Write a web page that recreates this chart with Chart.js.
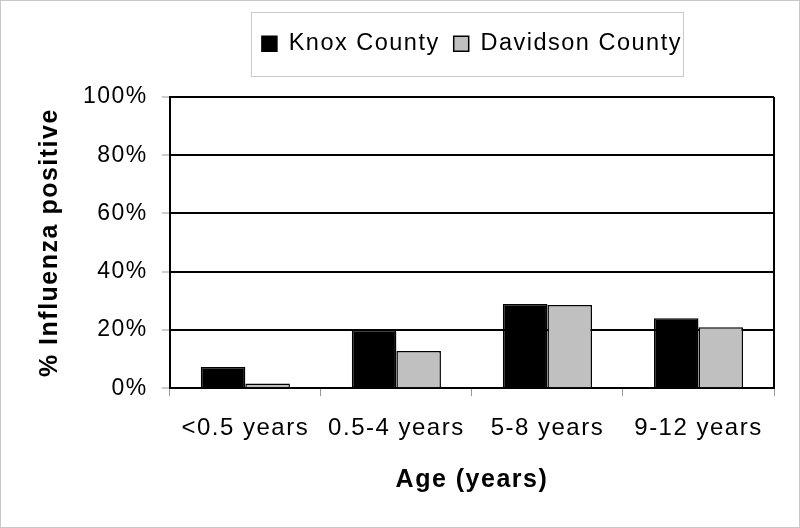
<!DOCTYPE html>
<html>
<head>
<meta charset="utf-8">
<script src="https://cdn.jsdelivr.net/npm/chart.js@4.4.0/dist/chart.umd.min.js"></script>
<style>
  html, body { margin: 0; padding: 0; background: #fff; }
  #wrap { width: 800px; height: 528px; }
</style>
</head>
<body>
<div id="wrap"><canvas id="fluChart" width="800" height="528"></canvas></div>
<script>
var ageGroups = ['<0.5 years', '0.5-4 years', '5-8 years', '9-12 years'];
var knoxValues = [7.3, 20, 28.9, 24];
var davidsonValues = [1.6, 12.8, 28.6, 20.9];
var yTicks = [0, 20, 40, 60, 80, 100];

// the old export has wide letter spacing, keep it on the canvas state
var spacingPlugin = {
    id: 'spacingPlugin',
    beforeLayout: function(chart) { chart.ctx.letterSpacing = '1.5px'; },
    beforeDraw: function(chart) { chart.ctx.letterSpacing = '1.5px'; }
};

// extra room below the legend before the plot starts
var legendGapPlugin = {
    id: 'legendGapPlugin',
    afterInit: function(chart) {
        var lg = chart.legend;
        if (!lg) return;
        var origFit = lg.fit;
        lg.fit = function() {
            origFit.call(this);
            this.height += 31.5;
        };
    }
};

// frame round the whole picture, box round the legend, right edge of plot
var framePlugin = {
    id: 'framePlugin',
    afterDraw: function(chart) {
        var c = chart.ctx;
        var a = chart.chartArea;
        var lg = chart.legend;
        c.save();
        c.strokeStyle = '#c8c8c8';
        c.lineWidth = 1;
        c.strokeRect(0.5, 0.5, chart.width - 1, chart.height - 1);
        if (lg && lg.legendHitBoxes.length) {
            var first = lg.legendHitBoxes[0];
            var last = lg.legendHitBoxes[lg.legendHitBoxes.length - 1];
            c.strokeRect(first.left - 10.5, lg.top - 5.5, (last.left + last.width) - first.left + 12, 64);
        }
        c.strokeStyle = '#000';
        c.lineWidth = 2;
        c.beginPath();
        c.moveTo(a.right, a.top);
        c.lineTo(a.right, a.bottom);
        c.stroke();
        c.restore();
    }
};

var ctx = document.getElementById('fluChart').getContext('2d');
new Chart(ctx, {
    type: 'bar',
    data: {
        labels: ageGroups,
        datasets: [{
            label: 'Knox County',
            data: knoxValues,
            backgroundColor: '#000000',
            borderColor: '#000000',
            borderWidth: 1.5
        }, {
            label: 'Davidson County',
            data: davidsonValues,
            backgroundColor: '#c0c0c0',
            borderColor: '#000000',
            borderWidth: 1.5
        }]
    },
    options: {
        responsive: false,
        animation: false,
        layout: { padding: { top: 18, right: 26, left: 35, bottom: 33 } },
        datasets: { bar: { categoryPercentage: 0.59, barPercentage: 1.0 } },
        plugins: {
            tooltip: { enabled: false },
            legend: {
                position: 'top',
                fullSize: false,
                labels: {
                    color: '#000',
                    font: { family: 'Liberation Sans', size: 23.5 },
                    boxWidth: 15,
                    boxHeight: 15,
                    padding: 14
                }
            }
        },
        scales: {
            x: {
                grid: {
                    offset: true,
                    drawOnChartArea: false,
                    drawTicks: true,
                    tickLength: 8,
                    color: '#999'
                },
                border: { color: '#000', width: 2 },
                ticks: {
                    color: '#000',
                    font: { family: 'Liberation Sans', size: 24 },
                    padding: 18
                },
                title: {
                    display: true,
                    text: 'Age (years)',
                    color: '#000',
                    font: { family: 'Liberation Sans', size: 25, weight: 'bold' },
                    padding: { top: 4, bottom: 0 }
                }
            },
            y: {
                min: 0,
                max: 100,
                afterBuildTicks: function(axis) {
                    axis.ticks = yTicks.map(function(v) { return { value: v }; });
                },
                grid: {
                    color: '#000',
                    lineWidth: 2,
                    tickLength: 8,
                    tickColor: '#999',
                    tickWidth: 1
                },
                border: { color: '#000', width: 2 },
                ticks: {
                    color: '#000',
                    font: { family: 'Liberation Sans', size: 23 },
                    padding: 14,
                    callback: function(v) { return v + '%'; }
                },
                title: {
                    display: true,
                    text: '% Influenza positive',
                    color: '#000',
                    font: { family: 'Liberation Sans', size: 25, weight: 'bold' },
                    padding: { top: 0, bottom: 4 }
                }
            }
        }
    },
    plugins: [spacingPlugin, legendGapPlugin, framePlugin]
});
</script>
</body>
</html>
